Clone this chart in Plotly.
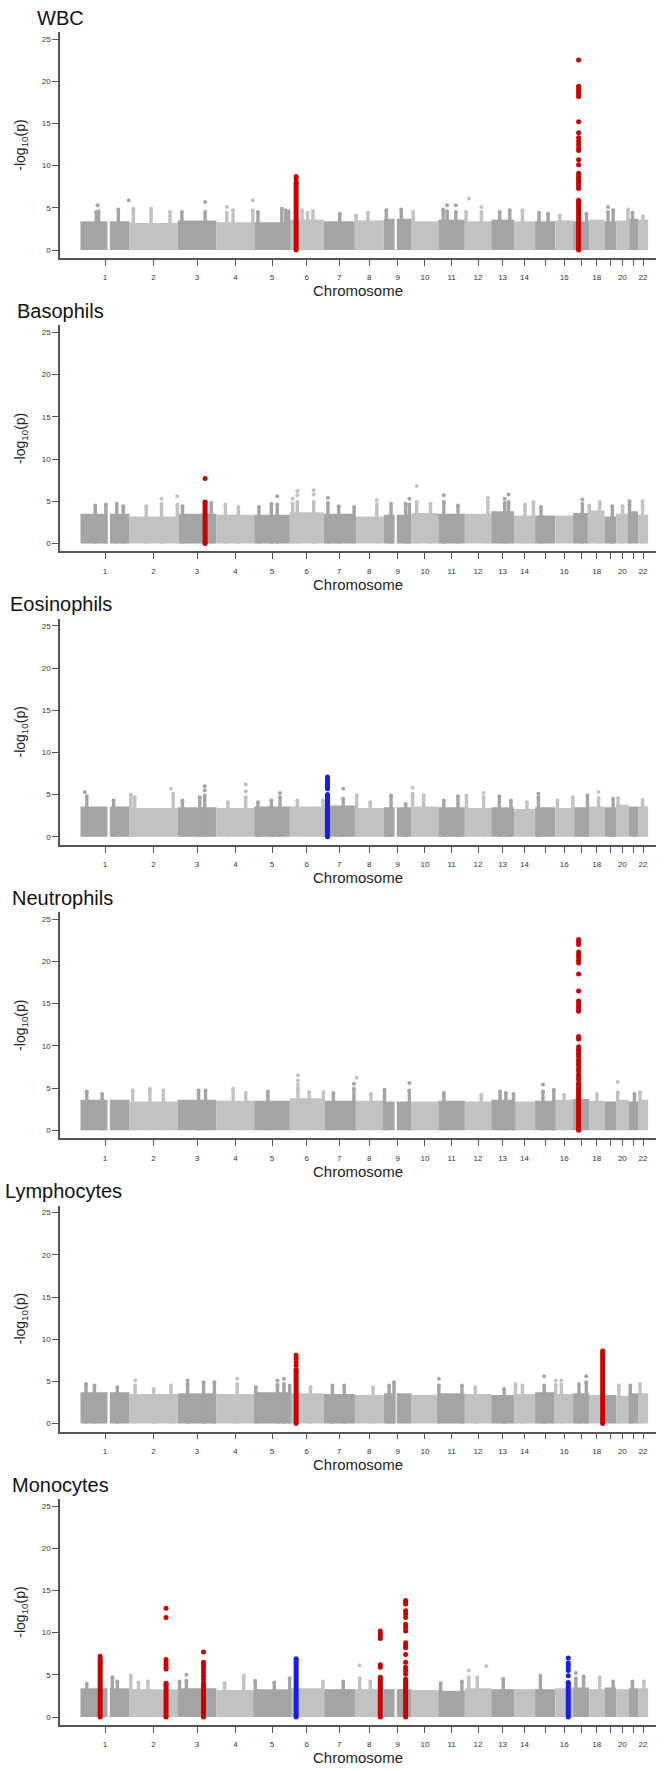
import plotly.graph_objects as go

# ---------------- data ----------------
CHROM_LEN = [249.3, 243.2, 198.0, 191.2, 180.9, 171.1, 159.1, 146.4, 141.2, 135.5, 135.0,
             133.9, 115.2, 107.3, 102.5, 90.4, 81.2, 78.1, 59.1, 63.0, 48.1, 51.3]
LABELLED_CHROMS = [1, 2, 3, 4, 5, 6, 7, 8, 9, 10, 11, 12, 13, 14, 16, 18, 20, 22]
UNLABELLED_CHROMS = [15, 17, 19, 21]
Y_TICKS = [0, 5, 10, 15, 20, 25]
CENTROMERE_GAPS = {1: (137, 149), 9: (55, 66)}
PANEL_NAMES = ["WBC", "Basophils", "Eosinophils", "Neutrophils", "Lymphocytes", "Monocytes"]

# dense body height per chromosome
WBC_BODY = [3.4, 3.2, 3.5, 3.3, 3.3, 3.6, 3.4, 3.5, 3.7, 3.4, 3.6, 3.4, 3.6, 3.4, 3.4, 3.5, 3.4, 3.6, 3.4, 3.5, 3.7, 3.6]
BASO_BODY = [3.5, 3.2, 3.5, 3.4, 3.4, 3.7, 3.5, 3.2, 3.4, 3.6, 3.5, 3.5, 3.8, 3.3, 3.3, 3.3, 3.6, 3.9, 3.2, 3.5, 3.8, 3.4]
EOS_BODY = [3.6, 3.4, 3.5, 3.4, 3.6, 3.6, 3.7, 3.4, 3.5, 3.6, 3.5, 3.4, 3.5, 3.3, 3.5, 3.4, 3.5, 3.6, 3.5, 3.8, 3.6, 3.6]
NEU_BODY = [3.6, 3.4, 3.6, 3.5, 3.5, 3.8, 3.5, 3.5, 3.4, 3.4, 3.5, 3.4, 3.6, 3.4, 3.5, 3.6, 3.7, 3.5, 3.4, 3.6, 3.4, 3.6]
LYM_BODY = [3.7, 3.5, 3.6, 3.5, 3.7, 3.6, 3.5, 3.4, 3.6, 3.4, 3.6, 3.5, 3.4, 3.5, 3.7, 3.5, 3.6, 3.4, 3.4, 3.3, 3.6, 3.6]
MONO_BODY = [3.4, 3.3, 3.4, 3.2, 3.3, 3.4, 3.3, 3.3, 3.3, 3.2, 3.1, 3.4, 3.3, 3.3, 3.3, 3.4, 3.5, 3.3, 3.5, 3.3, 3.4, 3.4]

# narrow columns above the body: (chromosome, position Mb, -log10 p)
WBC_COLS = [(1, 80, 4.5), (1, 92, 4.6), (1, 192, 4.8), (2, 19, 4.9), (2, 109, 4.9), (2, 205, 4.5),
            (3, 22, 4.5), (3, 140, 4.5), (4, 52, 4.4), (4, 84, 4.7), (4, 184, 4.7), (5, 19, 4.5),
            (5, 140, 4.9), (5, 160, 4.7), (5, 175, 4.6), (6, 62, 4.7), (6, 90, 4.4), (6, 117, 4.6),
            (7, 82, 4.3), (8, 6, 4.1), (8, 66, 4.4), (9, 13, 4.7), (9, 89, 4.8), (10, 8, 4.5),
            (11, 25, 4.8), (11, 45, 4.6), (11, 89, 4.5), (12, 6, 4.5), (12, 84, 4.5), (13, 43, 4.5),
            (13, 94, 4.7), (14, 43, 4.7), (15, 20, 4.4), (15, 66, 4.3), (16, 23, 4.1), (17, 68, 4.3),
            (19, 18, 4.5), (19, 44, 4.7), (20, 60, 4.8), (21, 20, 4.4), (22, 25, 4.0)]
BASO_COLS = [(1, 75, 4.5), (1, 129, 4.6), (1, 184, 4.7), (1, 217, 4.4), (2, 84, 4.4), (2, 162, 4.7),
             (2, 242, 4.6), (3, 25, 4.4), (3, 171, 4.8), (4, 45, 4.6), (4, 111, 4.3), (5, 24, 4.3),
             (5, 87, 4.7), (5, 117, 4.6), (6, 14, 4.7), (6, 38, 4.9), (6, 121, 4.9), (7, 22, 4.8),
             (7, 77, 4.4), (7, 155, 4.3), (8, 111, 4.6), (9, 37, 4.7), (9, 111, 4.7), (9, 130, 4.6),
             (10, 26, 4.9), (10, 96, 4.7), (11, 28, 4.9), (11, 100, 4.5), (12, 117, 5.0), (13, 68, 4.8),
             (13, 88, 4.9), (14, 56, 4.6), (14, 99, 4.9), (15, 30, 4.3), (17, 47, 4.7), (18, 1, 4.5),
             (18, 54, 4.9), (19, 40, 4.4), (20, 33, 4.4), (21, 5, 4.6), (22, 23, 4.6)]
EOS_COLS = [(1, 32, 4.8), (1, 168, 4.3), (2, 6, 4.9), (2, 26, 4.7), (2, 221, 4.9), (3, 25, 4.3),
            (3, 113, 4.7), (3, 138, 4.9), (4, 57, 4.1), (4, 148, 4.7), (5, 19, 4.1), (5, 87, 4.3),
            (5, 131, 4.7), (6, 38, 4.3), (6, 168, 4.3), (7, 100, 4.5), (8, 9, 4.9), (8, 78, 4.1),
            (9, 37, 4.9), (9, 111, 3.9), (10, 5, 4.8), (10, 61, 4.9), (11, 28, 4.3), (11, 100, 4.8),
            (12, 8, 4.9), (12, 95, 4.7), (13, 41, 4.8), (13, 100, 4.3), (14, 66, 4.1), (15, 17, 4.7),
            (16, 11, 4.3), (16, 89, 4.7), (17, 73, 4.9), (18, 48, 4.6), (19, 44, 4.5), (20, 10, 4.6),
            (22, 23, 4.4)]
NEU_COLS = [(1, 32, 4.6), (1, 110, 4.3), (2, 16, 4.7), (2, 103, 4.9), (2, 171, 4.7), (3, 107, 4.7),
            (3, 142, 4.7), (4, 84, 4.9), (4, 148, 4.4), (5, 69, 4.6), (6, 41, 5.0), (6, 98, 4.5),
            (6, 170, 4.5), (7, 50, 4.4), (7, 154, 4.9), (8, 81, 4.3), (9, 4, 4.8), (9, 130, 4.7),
            (11, 28, 4.4), (12, 83, 4.2), (13, 45, 4.6), (13, 74, 4.4), (13, 113, 4.3), (15, 40, 4.6),
            (15, 95, 4.8), (16, 45, 4.2), (18, 40, 4.3), (20, 8, 4.5), (21, 30, 4.3), (22, 10, 4.5)]
LYM_COLS = [(1, 28, 4.7), (1, 71, 4.5), (1, 187, 4.3), (2, 28, 4.5), (2, 122, 4.1), (2, 210, 4.5),
            (3, 51, 4.7), (3, 132, 4.9), (3, 187, 4.9), (4, 105, 4.7), (5, 8, 4.3), (5, 118, 4.6),
            (5, 151, 4.7), (5, 180, 4.5), (6, 105, 4.3), (7, 45, 4.5), (7, 105, 4.5), (8, 92, 4.3),
            (9, 27, 4.5), (9, 52, 4.9), (11, 3, 4.5), (11, 120, 4.5), (12, 53, 4.3), (13, 65, 4.1),
            (14, 8, 4.7), (14, 43, 4.5), (15, 46, 4.5), (16, 2, 4.6), (16, 31, 4.6), (17, 30, 4.7),
            (17, 67, 4.9), (20, 14, 4.5), (21, 9, 4.5), (22, 10, 4.7)]
MONO_COLS = [(1, 32, 3.9), (1, 162, 4.7), (1, 187, 4.2), (2, 6, 4.9), (2, 45, 4.1), (2, 93, 4.2),
             (3, 10, 4.2), (3, 45, 4.3), (4, 41, 4.0), (4, 138, 4.9), (5, 5, 4.3), (5, 102, 4.1),
             (5, 180, 4.6), (6, 168, 4.2), (7, 100, 4.2), (8, 24, 4.6), (8, 78, 4.2), (11, 12, 4.0),
             (11, 120, 4.2), (12, 20, 4.7), (12, 63, 4.7), (13, 61, 4.5), (15, 27, 4.9), (17, 14, 4.6),
             (17, 53, 4.8), (18, 54, 4.7), (19, 44, 4.2), (21, 20, 4.2), (22, 30, 4.2)]

# isolated points
WBC_DOTS = [(1, 87, 5.3), (1, 245, 5.9), (3, 140, 5.7), (4, 52, 5.1), (4, 184, 5.9), (11, 45, 5.3),
            (11, 89, 5.3), (12, 21, 6.1), (12, 84, 5.1), (19, 18, 5.1)]
BASO_DOTS = [(2, 162, 5.3), (2, 242, 5.6), (5, 117, 5.6), (6, 14, 5.3), (6, 38, 6.2), (6, 38, 5.7),
             (6, 121, 6.3), (6, 121, 5.8), (7, 22, 5.4), (8, 111, 5.1), (9, 130, 5.3), (10, 26, 6.8),
             (11, 28, 5.7), (12, 117, 5.4), (13, 68, 5.3), (13, 88, 5.8), (17, 47, 5.2), (21, 5, 5.0),
             (22, 23, 5.0)]
EOS_DOTS = [(1, 22, 5.3), (2, 6, 5.0), (2, 210, 5.7), (2, 221, 5.1), (3, 138, 6.0), (3, 138, 5.5),
            (4, 148, 6.2), (4, 148, 5.4), (5, 131, 5.2), (7, 100, 5.7), (10, 5, 5.8), (10, 5, 5.1),
            (12, 95, 5.2), (15, 17, 5.1), (18, 48, 5.3)]
NEU_DOTS = [(6, 41, 6.5), (6, 41, 5.9), (6, 41, 5.4), (7, 154, 5.5), (8, 9, 6.2), (9, 130, 5.6),
            (15, 40, 5.4), (20, 8, 5.7)]
LYM_DOTS = [(2, 28, 5.1), (3, 51, 5.1), (4, 105, 5.3), (5, 118, 5.1), (5, 151, 5.3), (11, 3, 5.3),
            (15, 46, 5.6), (16, 2, 5.1), (16, 31, 5.1), (17, 67, 5.6)]
MONO_DOTS = [(3, 45, 5.0), (8, 24, 6.1), (12, 20, 5.5), (12, 109, 6.0), (17, 14, 5.2)]

# highlighted loci: (chromosome, position Mb, colour class, dense top, single points)
WBC_HITS = [(6, 32, "red", 8.0, [8.7, 8.4]),
            (17, 28, "red", 5.9, [22.5, 19.4, 19.1, 18.8, 18.5, 18.2, 15.2, 13.9, 13.3, 12.9, 12.5, 12.1,
                                  11.8, 10.7, 10.1, 9.1, 8.8, 8.5, 8.2, 7.9, 7.6, 7.3])]
BASO_HITS = [(3, 140, "red", 4.9, [7.7])]
EOS_HITS = [(7, 20, "blue", 5.0, [5.7, 5.9, 6.1, 6.3, 6.5, 6.7, 6.9, 7.1])]
NEU_HITS = [(17, 28, "red", 5.6, [22.6, 22.3, 22.0, 21.1, 20.8, 20.5, 20.1, 19.8, 18.5, 16.5, 15.3, 15.0,
                                  14.7, 14.4, 14.1, 11.1, 10.8, 9.9, 9.6, 9.3, 9.0, 8.7, 8.3, 8.0, 7.7,
                                  7.3, 7.0, 6.6, 6.3, 6.0])]
LYM_HITS = [(6, 32, "red", 6.4, [8.1, 7.7, 7.3, 6.9]),
            (18, 69, "red", 8.2, [8.6, 8.4])]
MONO_HITS = [(1, 100, "red", 6.6, [7.2, 6.9]),
             (2, 185, "red", 4.0, [12.9, 11.8, 6.8, 6.5, 6.2, 5.9, 5.7]),
             (3, 132, "red", 4.0, [7.7, 6.5, 6.2, 5.9, 5.6, 5.2, 4.8, 4.4]),
             (6, 32, "blue", 6.9, []),
             (8, 129, "red", 4.7, [10.2, 9.9, 9.6, 9.3, 6.2, 5.9]),
             (9, 111, "red", 4.5, [13.8, 13.6, 13.4, 12.6, 12.2, 11.8, 11.0, 10.6, 10.2, 8.8, 8.5, 8.2,
                                   7.4, 6.5, 5.9, 5.5, 5.1]),
             (16, 66, "blue", 4.1, [7.0, 6.4, 6.1, 5.8, 5.5, 4.9])]

PANELS = [
    (WBC_BODY, WBC_COLS, WBC_DOTS, WBC_HITS),
    (BASO_BODY, BASO_COLS, BASO_DOTS, BASO_HITS),
    (EOS_BODY, EOS_COLS, EOS_DOTS, EOS_HITS),
    (NEU_BODY, NEU_COLS, NEU_DOTS, NEU_HITS),
    (LYM_BODY, LYM_COLS, LYM_DOTS, LYM_HITS),
    (MONO_BODY, MONO_COLS, MONO_DOTS, MONO_HITS),
]

# ---------------- styling ----------------
W, H = 666, 1771
PERIOD = 293.4
X_LEFT_PX, X_RIGHT_PX = 60, 656
TITLE_X_PX = [35, 15, 8, 10, 3, 10]
DARK = "#a4a4a4"
LIGHT = "#c2c2c2"
HIT_COL = {"red": "#cc0000", "blue": "#1c1ce6"}
AXIS_COL = "#555555"
FONT = "Liberation Sans, Arial, Helvetica, sans-serif"

starts = []
acc = 0.0
for L in CHROM_LEN:
    starts.append(acc)
    acc += L
mids = [s + L / 2 for s, L in zip(starts, CHROM_LEN)]


def gx(ch, pos):
    return starts[ch - 1] + pos


def ccol(ch):
    return DARK if ch % 2 == 1 else LIGHT


fig = go.Figure()
annotations = []
layout_axes = {}

for k, (body, cols, dots, hits) in enumerate(PANELS):
    idx = k + 1
    xa = "x" if idx == 1 else f"x{idx}"
    ya = "y" if idx == 1 else f"y{idx}"

    # chromosome bodies
    bx, bw, by, bc = [], [], [], []
    for ci, L in enumerate(CHROM_LEN):
        ch = ci + 1
        segs = [(0, L)]
        if ch in CENTROMERE_GAPS:
            g0, g1 = CENTROMERE_GAPS[ch]
            segs = [(0, g0), (g1, L)]
        for a, b in segs:
            bx.append(starts[ci] + (a + b) / 2)
            bw.append(b - a)
            by.append(body[ci])
            bc.append(ccol(ch))
    fig.add_trace(go.Bar(x=bx, y=by, width=bw, base=0, marker=dict(color=bc, line=dict(width=0)),
                         xaxis=xa, yaxis=ya, showlegend=False, hoverinfo="skip"))

    # columns
    for colour in (DARK, LIGHT):
        lx, ly, mx, my = [], [], [], []
        for ch, pos, v in cols:
            if ccol(ch) != colour:
                continue
            x = gx(ch, pos)
            lx += [x, x, None]
            ly += [0, v, None]
            mx.append(x)
            my.append(v)
        fig.add_trace(go.Scatter(x=lx, y=ly, mode="lines", line=dict(color=colour, width=3.4),
                                 xaxis=xa, yaxis=ya, showlegend=False, hoverinfo="skip"))
        fig.add_trace(go.Scatter(x=mx, y=my, mode="markers",
                                 marker=dict(color=colour, size=4, line=dict(width=0)),
                                 xaxis=xa, yaxis=ya, showlegend=False, hoverinfo="skip"))

    # isolated dots
    fig.add_trace(go.Scatter(x=[gx(c, p) for c, p, v in dots], y=[v for c, p, v in dots],
                             mode="markers",
                             marker=dict(color=[ccol(c) for c, p, v in dots], size=4, line=dict(width=0)),
                             xaxis=xa, yaxis=ya, showlegend=False, hoverinfo="skip"))

    # highlighted loci
    for ch, pos, cls, dense, pts in hits:
        x = gx(ch, pos)
        colour = HIT_COL[cls]
        fig.add_trace(go.Scatter(x=[x, x], y=[0, dense], mode="lines+markers",
                                 line=dict(color=colour, width=5),
                                 marker=dict(color=colour, size=5, line=dict(width=0)),
                                 xaxis=xa, yaxis=ya, showlegend=False, hoverinfo="skip"))
        if pts:
            fig.add_trace(go.Scatter(x=[x] * len(pts), y=pts, mode="markers",
                                     marker=dict(color=colour, size=5, line=dict(width=0)),
                                     xaxis=xa, yaxis=ya, showlegend=False, hoverinfo="skip"))

    top_px = 32 + PERIOD * k
    bot_px = 258 + PERIOD * k
    xkey = "xaxis" if idx == 1 else f"xaxis{idx}"
    ykey = "yaxis" if idx == 1 else f"yaxis{idx}"
    layout_axes[xkey] = dict(
        domain=[X_LEFT_PX / W, X_RIGHT_PX / W], anchor=ya,
        range=[-104, 2921], showgrid=False, zeroline=False,
        showline=True, linecolor=AXIS_COL, linewidth=1.6,
        ticks="outside", ticklen=6, tickwidth=1.2, tickcolor=AXIS_COL,
        tickmode="array", tickvals=[mids[c - 1] for c in LABELLED_CHROMS],
        ticktext=[str(c) for c in LABELLED_CHROMS],
        minor=dict(tickmode="array", tickvals=[mids[c - 1] for c in UNLABELLED_CHROMS],
                   ticks="outside", ticklen=6, tickwidth=1.2, tickcolor=AXIS_COL, showgrid=False),
        tickfont=dict(size=8, color="#333333", family=FONT),
        ticklabelstandoff=5, fixedrange=True,
        title=dict(text="Chromosome", standoff=4,
                   font=dict(size=15, color="#222222", family=FONT)),
    )
    layout_axes[ykey] = dict(
        domain=[1 - bot_px / H, 1 - top_px / H], anchor=xa,
        range=[-0.948, 25.83], showgrid=False, zeroline=False,
        showline=True, linecolor=AXIS_COL, linewidth=1.6,
        ticks="outside", ticklen=6, tickwidth=1.2, tickcolor=AXIS_COL,
        tickmode="array", tickvals=Y_TICKS, ticktext=[str(t) for t in Y_TICKS],
        tickfont=dict(size=8, color="#333333", family=FONT), fixedrange=True,
        title=dict(text="-log<sub>10</sub>(p)", standoff=13,
                   font=dict(size=14, color="#222222", family=FONT)),
    )

    annotations.append(dict(text=PANEL_NAMES[k], xref="paper", yref="paper",
                            x=TITLE_X_PX[k] / W, y=1 - (17.5 + PERIOD * k) / H,
                            xanchor="left", yanchor="middle", showarrow=False,
                            font=dict(size=20, color="#111111", family=FONT)))

fig.update_layout(
    width=W, height=H, autosize=False,
    margin=dict(l=0, r=0, t=0, b=0),
    paper_bgcolor="white", plot_bgcolor="white",
    barmode="overlay", showlegend=False,
    annotations=annotations,
    **layout_axes,
)

fig.write_html("out.html", config={"displayModeBar": False},
               post_script="document.body.style.margin='0';")
